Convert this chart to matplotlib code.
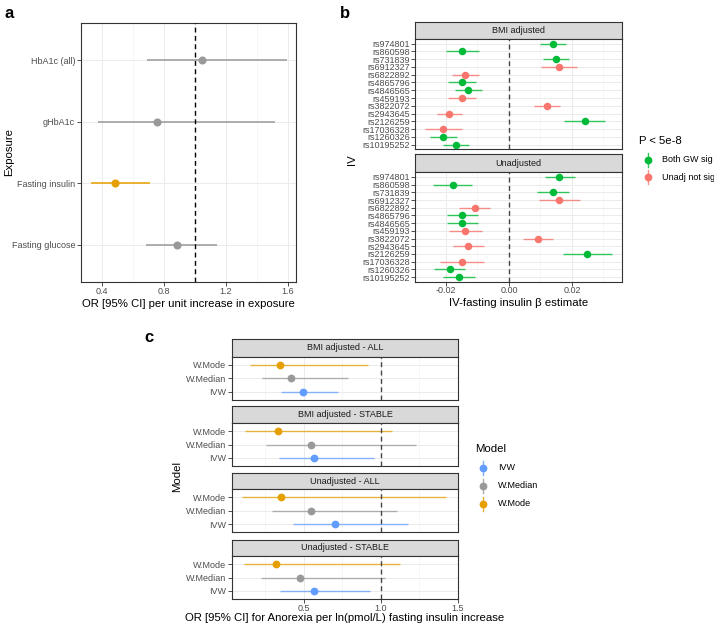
import matplotlib
matplotlib.use("Agg")
import matplotlib.pyplot as plt
from matplotlib.lines import Line2D
import numpy as np

plt.rcParams['font.family'] = ['Liberation Sans', 'DejaVu Sans']

W, H = 714, 626

# ---------------- data ----------------
# Panel a
a_exposures = ["HbA1c (all)", "gHbA1c", "Fasting insulin", "Fasting glucose"]
a_or = [1.05, 0.757, 0.484, 0.884]
a_lo = [0.692, 0.378, 0.329, 0.684]
a_hi = [1.594, 1.518, 0.71, 1.144]
a_sig = [False, False, True, False]

# Panel b
b_snps = ["rs974801", "rs860598", "rs731839", "rs6912327", "rs6822892", "rs4865796",
          "rs4846565", "rs459193", "rs3822072", "rs2943645", "rs2126259", "rs17036328",
          "rs1260326", "rs10195252"]
b_group = ["Both GW sig", "Both GW sig", "Both GW sig", "Unadj not sig", "Unadj not sig",
           "Both GW sig", "Both GW sig", "Unadj not sig", "Unadj not sig", "Unadj not sig",
           "Both GW sig", "Unadj not sig", "Both GW sig", "Both GW sig"]
b_adj_beta = [0.0139, -0.0148, 0.0149, 0.0159, -0.0139, -0.0148, -0.0129, -0.0148,
              0.0120, -0.0189, 0.0240, -0.0208, -0.0208, -0.0168]
b_adj_lo = [0.0099, -0.0200, 0.0109, 0.0102, -0.0181, -0.0192, -0.0172, -0.0194,
            0.0079, -0.0229, 0.0175, -0.0267, -0.0249, -0.0209]
b_adj_hi = [0.0180, -0.0096, 0.0191, 0.0217, -0.0096, -0.0105, -0.0084, -0.0103,
            0.0162, -0.0148, 0.0304, -0.0149, -0.0166, -0.0126]
b_unadj_beta = [0.0160, -0.0178, 0.0139, 0.0160, -0.0109, -0.0148, -0.0148, -0.0139,
                0.0092, -0.0129, 0.0249, -0.0148, -0.0188, -0.0159]
b_unadj_lo = [0.0113, -0.0241, 0.0089, 0.0094, -0.0158, -0.0198, -0.0198, -0.0191,
              0.0045, -0.0178, 0.0173, -0.0219, -0.0239, -0.0209]
b_unadj_hi = [0.0209, -0.0116, 0.0191, 0.0227, -0.0059, -0.0098, -0.0098, -0.0085,
              0.0140, -0.0079, 0.0327, -0.0078, -0.0138, -0.0107]

# Panel c
c_facets = ["BMI adjusted - ALL", "BMI adjusted - STABLE", "Unadjusted - ALL", "Unadjusted - STABLE"]
c_models = ["W.Mode", "W.Median", "IVW"]
c_or = [[0.343, 0.418, 0.496],
        [0.332, 0.545, 0.565],
        [0.351, 0.545, 0.703],
        [0.321, 0.476, 0.565]]
c_lo = [[0.149, 0.228, 0.353],
        [0.119, 0.254, 0.341],
        [0.097, 0.293, 0.429],
        [0.112, 0.224, 0.343]]
c_hi = [[0.914, 0.787, 0.722],
        [1.071, 1.226, 0.957],
        [1.427, 1.108, 1.175],
        [1.127, 1.030, 0.931]]

# ---------------- styles ----------------
GREY = "#999999"
ORANGE = "#E69F00"
BLUE = "#619CFF"
GREEN = "#00BA38"
RED = "#F8766D"
grp_col = {"Both GW sig": GREEN, "Unadj not sig": RED}
mod_col = {"IVW": BLUE, "W.Median": GREY, "W.Mode": ORANGE}
TICKC = "#4D4D4D"
FS_TICK = 6.5
FS_TITLE = 8.2

fig = plt.figure(figsize=(W / 100, H / 100), dpi=100)


def box(l, t, r, b):
    return [l / W, 1 - b / H, (r - l) / W, (b - t) / H]


def style_panel(ax):
    for s in ax.spines.values():
        s.set_color("#333333")
        s.set_linewidth(0.8)
    ax.tick_params(axis="both", which="major", length=2.7, width=0.6, color="#333333",
                   labelsize=FS_TICK, labelcolor=TICKC, pad=1.5)
    ax.tick_params(axis="x", which="major", pad=0.6)
    ax.tick_params(axis="both", which="minor", length=0)
    ax.set_axisbelow(True)
    ax.grid(True, which="major", color="#EBEBEB", lw=0.7)
    ax.grid(True, which="minor", axis="x", color="#F2F2F2", lw=0.45)


def strip(l, t, r, b, label):
    s = fig.add_axes(box(l, t, r, b))
    s.set_facecolor("#D9D9D9")
    s.set_xticks([])
    s.set_yticks([])
    for sp in s.spines.values():
        sp.set_color("#333333")
        sp.set_linewidth(0.8)
    s.text(0.5, 0.5, label, ha="center", va="center", fontsize=FS_TICK, color="#1A1A1A",
           transform=s.transAxes)


# ---------------- Panel a ----------------
axa = fig.add_axes(box(81, 23, 296, 282))
style_panel(axa)
ya = np.arange(len(a_exposures))
for i in range(len(a_exposures)):
    c = ORANGE if a_sig[i] else GREY
    axa.hlines(ya[i], a_lo[i], a_hi[i], color=c, lw=1.1, zorder=2)
    axa.plot(a_or[i], ya[i], "o", color=c, ms=4.8, zorder=3)
axa.axvline(1.0, color="black", ls=(0, (3.5, 2.5)), lw=1.0, zorder=4)
axa.set_xlim(0.267, 1.654)
axa.set_ylim(len(a_exposures) - 1 + 0.6, -0.6)
axa.set_yticks(ya)
axa.set_yticklabels(a_exposures)
axa.set_xticks([0.4, 0.8, 1.2, 1.6])
axa.set_xticklabels(["0.4", "0.8", "1.2", "1.6"])
axa.set_xticks([0.6, 1.0, 1.4], minor=True)

fig.text(188.5 / W, 1 - 304 / H, "OR [95% CI] per unit increase in exposure", ha="center",
         va="center", fontsize=FS_TITLE)
fig.text(9 / W, 1 - 152 / H, "Exposure", ha="center", va="center", rotation=90, fontsize=FS_TITLE)

# ---------------- Panel b ----------------
yb = np.arange(len(b_snps))
b_panels = [(39, 149.3, b_adj_beta, b_adj_lo, b_adj_hi, "BMI adjusted", 22.3),
            (172.3, 281.7, b_unadj_beta, b_unadj_lo, b_unadj_hi, "Unadjusted", 154)]
for k, (t, bt, beta, lo, hi, lab, st) in enumerate(b_panels):
    strip(415, st, 621.7, t, lab)
    ax = fig.add_axes(box(415, t, 621.7, bt))
    style_panel(ax)
    for i in range(len(b_snps)):
        c = grp_col[b_group[i]]
        ax.hlines(yb[i], lo[i], hi[i], color=c, lw=1.0, alpha=0.8, zorder=2)
        ax.plot(beta[i], yb[i], "o", color=c, ms=4.4, zorder=3)
    ax.axvline(0.0, color="#444444", ls=(0, (3.5, 2.5)), lw=1.0, zorder=4)
    ax.set_xlim(-0.0298, 0.0358)
    ax.set_ylim(len(b_snps) - 1 + 0.6, -0.6)
    ax.set_yticks(yb)
    ax.set_yticklabels(b_snps)
    ax.set_xticks([-0.02, 0.0, 0.02])
    ax.set_xticks([-0.01, 0.01, 0.03], minor=True)
    if k == 0:
        ax.tick_params(axis="x", labelbottom=False, length=0)
    else:
        ax.set_xticklabels(["-0.02", "0.00", "0.02"])
    ax.tick_params(axis="y", pad=1.0)

fig.text(518.5 / W, 1 - 303 / H, "IV-fasting insulin \u03b2 estimate", ha="center", va="center",
         fontsize=FS_TITLE)
fig.text(352 / W, 1 - 160 / H, "IV", ha="center", va="center", rotation=90, fontsize=FS_TITLE)

# ---------------- Panel c ----------------
c_boxes = [(339.3, 356.7, 399.7), (406.3, 423.3, 466), (473, 489.3, 532.3), (539.7, 556.3, 599)]
yc = np.arange(len(c_models))
for k, (st, t, bt) in enumerate(c_boxes):
    strip(232.3, st, 457.7, t, c_facets[k])
    ax = fig.add_axes(box(232.3, t, 457.7, bt))
    style_panel(ax)
    for i, m in enumerate(c_models):
        col = mod_col[m]
        ax.hlines(yc[i], c_lo[k][i], c_hi[k][i], color=col, lw=1.0, alpha=0.75, zorder=2)
        ax.plot(c_or[k][i], yc[i], "o", color=col, ms=4.6, zorder=3)
    ax.axvline(1.0, color="#444444", ls=(0, (3.5, 2.5)), lw=1.0, zorder=4)
    ax.set_xlim(0.035, 1.50)
    ax.set_ylim(len(c_models) - 1 + 0.6, -0.6)
    ax.set_yticks(yc)
    ax.set_yticklabels(c_models)
    ax.set_xticks([0.5, 1.0, 1.5])
    ax.set_xticks([0.25, 0.75, 1.25], minor=True)
    if k < 3:
        ax.tick_params(axis="x", labelbottom=False, length=0)
    else:
        ax.set_xticklabels(["0.5", "1.0", "1.5"])

fig.text(345 / W, 1 - 618 / H, "OR [95% CI] for Anorexia per ln(pmol/L) fasting insulin increase",
         ha="center", va="center", fontsize=FS_TITLE)
fig.text(177 / W, 1 - 477 / H, "Model", ha="center", va="center", rotation=90, fontsize=FS_TITLE)

# ---------------- legends (overlay) ----------------
ov = fig.add_axes([0, 0, 1, 1])
ov.set_xlim(0, W)
ov.set_ylim(H, 0)
ov.axis("off")


def key(x, y, col):
    ov.add_line(Line2D([x, x], [y - 7, y + 7], color=col, lw=1.0, alpha=0.8))
    ov.plot(x, y, "o", color=col, ms=4.6)


ov.text(639, 141, "P < 5e-8", ha="left", va="center", fontsize=FS_TITLE)
for j, g in enumerate(["Both GW sig", "Unadj not sig"]):
    yy = 160 + j * 17.3
    key(647.7, yy, grp_col[g])
    ov.text(661.7, yy, g, ha="left", va="center", fontsize=FS_TICK)

ov.text(475.3, 449, "Model", ha="left", va="center", fontsize=FS_TITLE)
for j, m in enumerate(["IVW", "W.Median", "W.Mode"]):
    yy = 468 + j * 18
    key(483.3, yy, mod_col[m])
    ov.text(498.3, yy, m, ha="left", va="center", fontsize=FS_TICK)

# panel letters
ov.text(9, 13, "a", ha="center", va="center", fontsize=12, fontweight="bold")
ov.text(345, 13, "b", ha="center", va="center", fontsize=12, fontweight="bold")
ov.text(149, 338, "c", ha="center", va="center", fontsize=12, fontweight="bold")

fig.savefig("out.png", dpi=100)
